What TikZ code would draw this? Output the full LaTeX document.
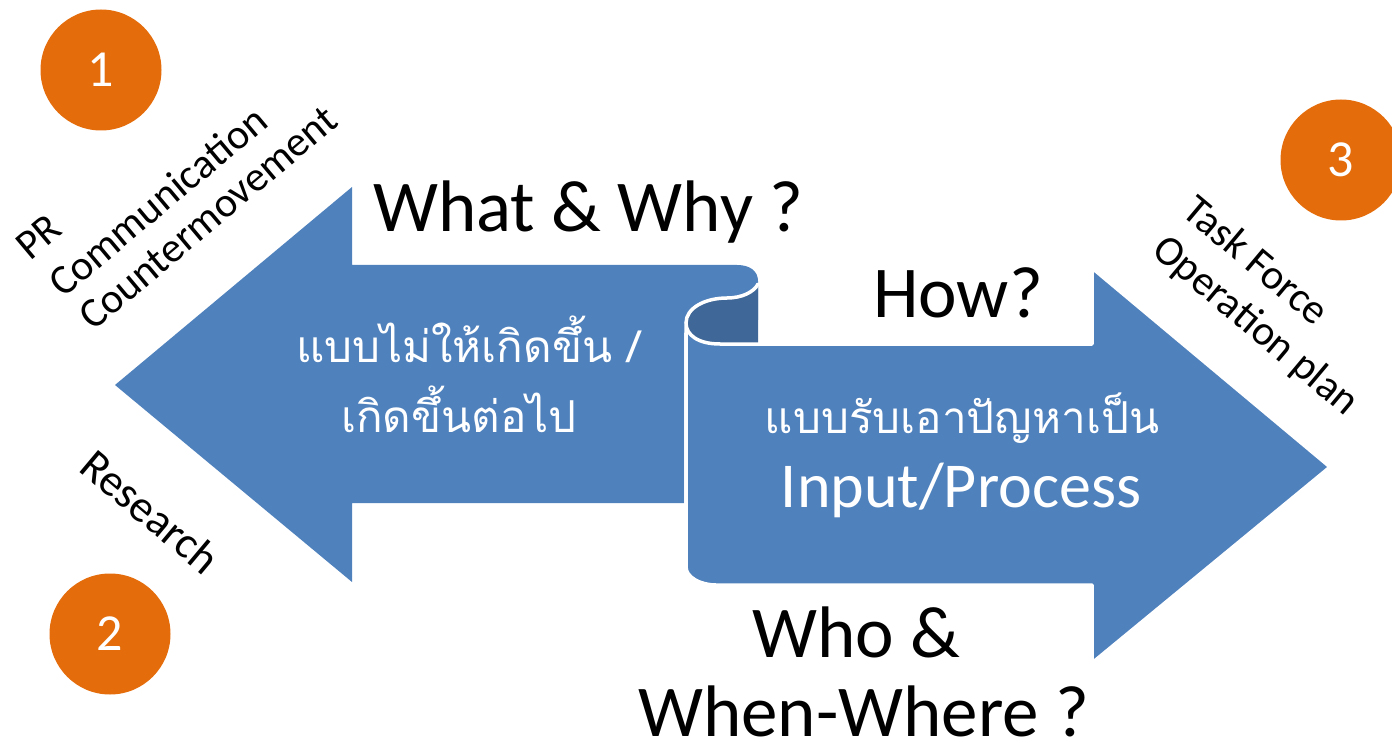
\documentclass[tikz,border=0pt]{standalone}
\usepackage{fontspec}
\setmainfont{Carlito}
\newfontfamily\thaifont[Script=Thai]{Loma}
\definecolor{arrowblue}{HTML}{4F81BD}
\definecolor{curldark}{HTML}{3F6797}
\definecolor{badgeorange}{HTML}{E46C0A}
\begin{document}
\begin{tikzpicture}[x=1pt,y=-1pt,
  arrowfill/.style={fill=arrowblue,draw=none},
  scrollsty/.style={fill=arrowblue,draw=white,line width=3.5pt,line join=round},
  curlline/.style={draw=white,line width=3.5pt,line cap=round},
  badge/.style={circle,fill=badgeorange,minimum size=121pt,inner sep=0pt,text=white,font=\fontsize{52}{60}\selectfont},
  bigtxt/.style={font=\fontsize{73}{88}\selectfont,inner sep=0pt,anchor=base west},
  sidetxt/.style={font=\fontsize{42}{50}\selectfont,inner sep=0pt,anchor=base west},
  thaitxt/.style={text=white,font=\thaifont\fontsize{44}{52}\selectfont,inner sep=0pt,anchor=base},
  inputtxt/.style={text=white,font=\fontsize{64}{76}\selectfont,inner sep=0pt,anchor=base}]
\useasboundingbox (0,0) rectangle (1392,743);
% left arrow
\path[arrowfill] (115,385) -- (352,187) -- (352,265) -- (737,265)
  .. controls (750,265) and (758,271) .. (758,281) -- (758,320) -- (692,325) -- (684,333)
  -- (684,503) -- (352,503) -- (352,582) -- cycle;
% dark inner side of the curl
\path[fill=curldark] (758,283) -- (758,344) -- (720,344)
  .. controls (698,344) and (686,335) .. (686,323)
  .. controls (686,308) and (705,298) .. (727,298)
  .. controls (742,298) and (754,292) .. (758,283) -- cycle;
% right scroll arrow
\path[scrollsty] (686,323) -- (686,567) .. controls (686,577) and (700,585) .. (716,585)
  -- (1092,585) -- (1092,663) -- (1330,467) -- (1092,268) -- (1092,344) -- (720,344)
  .. controls (698,344) and (686,335) .. (686,323) -- cycle;
\path[curlline] (686,323) .. controls (686,308) and (705,298) .. (727,298)
  .. controls (742,298) and (754,292) .. (758,284);
% badges
\node[badge] (b1) at (101,70) {1};
\node[badge] (b2) at (110,634) {2};
\node[badge] (b3) at (1341,160) {3};
% headings
\node[bigtxt] (what) at (373,232) {What \& Why ?};
\node[bigtxt] (how) at (873,318) {How?};
\node[bigtxt] (who) at (752,657) {Who \&};
\node[bigtxt] (when) at (638,736) {When-Where ?};
% arrow texts
\node[thaitxt] (thaiA) at (468,362) {แบบไม่ให้เกิดขึ้น /};
\node[thaitxt] (thaiB) at (459,432) {เกิดขึ้นต่อไป};
\node[thaitxt] (thaiC) at (962,433) {แบบรับเอาปัญหาเป็น};
\node[inputtxt] (input) at (961,507) {Input/Process};
% side labels
\node[sidetxt,rotate=40] (pr) at (30,262) {PR};
\node[sidetxt,rotate=40] (comm) at (63,299) {Communication};
\node[sidetxt,rotate=40] (counter) at (93,332) {Countermovement};
\node[sidetxt,rotate=-40,font=\fontsize{45}{54}\selectfont] (research) at (77,470) {Research};
\node[sidetxt,rotate=-40] (task) at (1180,214) {Task Force};
\node[sidetxt,rotate=-40] (oper) at (1150,253) {Operation plan};
\end{tikzpicture}
\end{document}
